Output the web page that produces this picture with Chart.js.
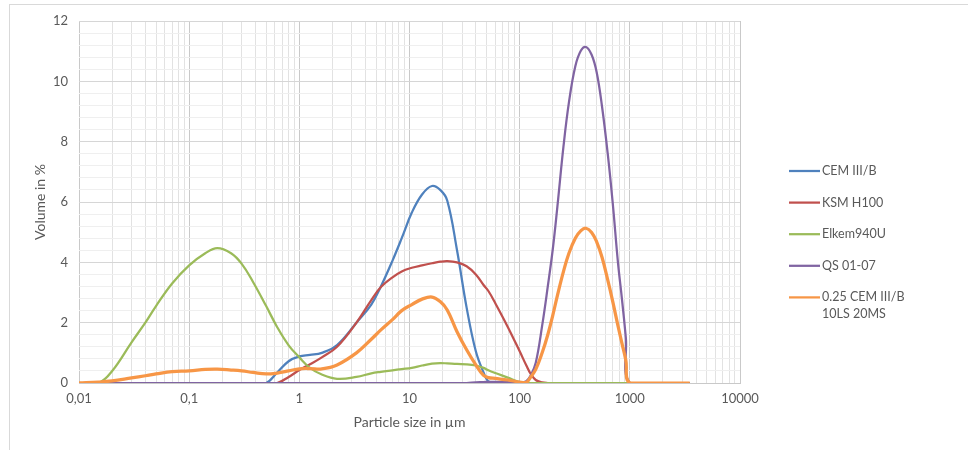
<!DOCTYPE html>
<html>
<head>
<meta charset="utf-8">
<script src="https://cdn.jsdelivr.net/npm/chart.js@4"></script>
<style>
  html, body { margin: 0; padding: 0; background: #fff; }
  #wrap { position: relative; width: 968px; height: 450px; overflow: hidden; }
  #frame { position: absolute; left: 9px; top: 4px; width: 1000px; height: 500px; border: 1px solid #d9d9d9; }
  canvas { position: absolute; left: 0; top: 0; }
</style>
</head>
<body>
<div id="wrap">
  <div id="frame"></div>
  <canvas id="chart" width="968" height="450"></canvas>
</div>
<script>
// particle sizes in µm (shared bins)
const sizes = [0.01, 0.015, 0.02, 0.03, 0.04, 0.05, 0.07, 0.1, 0.14, 0.18, 0.24, 0.3, 0.38, 0.5, 0.63, 0.8,
  1, 1.25, 1.6, 2.2, 3.3, 4.5, 5.5, 7, 8.5, 10.5, 13, 16, 19, 22, 27, 33, 40, 47, 52, 60, 78,
  100, 115, 126, 140, 160, 180, 200, 220, 250, 280, 320, 360, 400, 450, 500, 560, 630, 700, 780, 850, 920, 1000,
  2000, 3500];

const cem = [0, 0, 0, 0, 0, 0, 0, 0, 0, 0, 0, 0, 0, 0, 0.35, 0.72,
  0.88, 0.93, 1.0, 1.26, 2.0, 2.6, 3.2, 4.05, 4.8, 5.65, 6.25, 6.53, 6.4, 6.05, 4.4, 2.5, 1.05, 0.35, 0.05, 0, 0,
  0, 0, 0, 0, 0, 0, 0, 0, 0, 0, 0, 0, 0, 0, 0, 0, 0, 0, 0, 0, 0, 0,
  0, 0];

const ksm = [0, 0, 0, 0, 0, 0, 0, 0, 0, 0, 0, 0, 0, 0, 0, 0.2,
  0.43, 0.62, 0.85, 1.2, 2.0, 2.75, 3.18, 3.5, 3.7, 3.82, 3.9, 3.97, 4.02, 4.04, 4.0, 3.87, 3.6, 3.25, 3.05, 2.65, 1.86,
  1.05, 0.58, 0.3, 0.1, 0.02, 0, 0, 0, 0, 0, 0, 0, 0, 0, 0, 0, 0, 0, 0, 0, 0, 0,
  0, 0];

const elkem = [0, 0, 0.4, 1.35, 2.0, 2.55, 3.3, 3.9, 4.3, 4.47, 4.3, 3.95, 3.35, 2.55, 1.85, 1.25,
  0.85, 0.5, 0.28, 0.14, 0.2, 0.32, 0.37, 0.42, 0.46, 0.5, 0.58, 0.64, 0.66, 0.65, 0.63, 0.62, 0.58, 0.5, 0.42, 0.33, 0.18,
  0.03, 0, 0, 0, 0, 0, 0, 0, 0, 0, 0, 0, 0, 0, 0, 0, 0, 0, 0, 0, 0, 0,
  0, 0];

const qs = [0, 0, 0, 0, 0, 0, 0, 0, 0, 0, 0, 0, 0, 0, 0, 0,
  0, 0, 0, 0, 0, 0, 0, 0, 0, 0, 0, 0, 0, 0, 0, 0, 0.02, 0.03, 0.04, 0.04, 0.03,
  0, 0.06, 0.25, 0.67, 1.9, 3.2, 4.45, 5.85, 7.85, 9.3, 10.5, 11.02, 11.14, 10.88, 10.3, 9.15, 7.6, 5.95, 4.0, 2.75, 1.5, 0,
  0, 0];

const mix = [0, 0.03, 0.07, 0.17, 0.24, 0.3, 0.38, 0.4, 0.45, 0.46, 0.43, 0.4, 0.35, 0.3, 0.33, 0.4,
  0.47, 0.48, 0.47, 0.6, 1.0, 1.45, 1.76, 2.1, 2.4, 2.6, 2.78, 2.85, 2.7, 2.42, 1.7, 1.1, 0.6, 0.25, 0.18, 0.15, 0.1,
  0.03, 0.02, 0.2, 0.45, 1.0, 1.6, 2.25, 2.9, 3.7, 4.3, 4.8, 5.05, 5.13, 4.99, 4.68, 4.16, 3.42, 2.7, 1.9, 1.3, 0.75, 0,
  0, 0];

const seriesNames = ['CEM III/B', 'KSM H100', 'Elkem940U', 'QS 01-07', '0.25 CEM III/B\n10LS 20MS'];
const seriesValues = [cem, ksm, elkem, qs, mix];
const seriesColors = ['#4F81BD', '#C0504D', '#9BBB59', '#8064A2', '#F79646'];
const seriesWidths = [2.25, 2.25, 2.25, 2.25, 3.25];

const xDecades = [0.01, 0.1, 1, 10, 100, 1000, 10000];
const xTickLabels = ['0,01', '0,1', '1', '10', '100', '1000', '10000'];
const yMin = 0, yMax = 12, yMajor = 2, yMinor = 0.4;

const FONT = 'Lato';
const TEXT = '#595959';

function logTicks() {
  const t = [];
  xDecades.forEach((d, i) => {
    t.push({ value: d, major: true });
    if (i < xDecades.length - 1) {
      for (let m = 2; m <= 9; m++) t.push({ value: +(d * m).toPrecision(3), major: false });
    }
  });
  return t;
}

function linTicks() {
  const t = [];
  const n = Math.round((yMax - yMin) / yMinor);
  for (let i = 0; i <= n; i++) {
    const v = Math.round((yMin + i * yMinor) * 10) / 10;
    const q = v / yMajor;
    t.push({ value: v, major: Math.abs(q - Math.round(q)) < 1e-6 });
  }
  return t;
}

const sideLegend = {
  id: 'sideLegend',
  afterDraw(chart) {
    const ctx = chart.ctx;
    ctx.save();
    ctx.font = '12.5px ' + FONT;
    ctx.fillStyle = TEXT;
    ctx.textBaseline = 'middle';
    let y = 171;
    chart.data.datasets.forEach(ds => {
      ctx.strokeStyle = ds.borderColor;
      ctx.lineWidth = 2.25;
      ctx.beginPath();
      ctx.moveTo(789, y);
      ctx.lineTo(820, y);
      ctx.stroke();
      ds.label.split('\n').forEach((line, k) => ctx.fillText(line, 822, y + k * 16.5));
      y += 31.6;
    });
    ctx.restore();
  }
};

new Chart(document.getElementById('chart'), {
  type: 'line',
  data: {
    datasets: seriesNames.map((name, i) => ({
      label: name,
      data: sizes.map((x, k) => ({ x: x, y: seriesValues[i][k] })),
      borderColor: seriesColors[i],
      backgroundColor: seriesColors[i],
      borderWidth: seriesWidths[i],
      pointRadius: 0,
      tension: 0.4,
      fill: false,
      order: seriesNames.length - i
    }))
  },
  options: {
    responsive: false,
    animation: false,
    layout: { padding: { left: 10, top: 21, right: 228, bottom: 0 } },
    plugins: { legend: { display: false }, tooltip: { enabled: false } },
    scales: {
      x: {
        type: 'logarithmic',
        min: 0.01,
        max: 10000,
        afterBuildTicks: s => { s.ticks = logTicks(); },
        afterFit: s => { s.height = 67; },
        ticks: {
          autoSkip: false,
          maxRotation: 0,
          padding: 8,
          color: TEXT,
          font: { family: FONT, size: 13 },
          callback: (v) => {
            const i = xDecades.findIndex(d => Math.abs(d - v) < d * 1e-6);
            return i >= 0 ? xTickLabels[i] : '';
          }
        },
        grid: {
          drawTicks: false,
          color: c => (c.tick && c.tick.major ? '#c9c9c9' : '#e2e2e2'),
          lineWidth: 1
        },
        border: { color: '#c9c9c9' },
        title: {
          display: true,
          text: 'Particle size in µm',
          color: TEXT,
          font: { family: FONT, size: 14 },
          padding: { top: 0, bottom: 19 }
        }
      },
      y: {
        type: 'linear',
        min: yMin,
        max: yMax,
        afterBuildTicks: s => { s.ticks = linTicks(); },
        afterFit: s => { s.width = 69; },
        ticks: {
          autoSkip: false,
          padding: 11,
          color: TEXT,
          font: { family: FONT, size: 13 },
          callback: (v) => {
            const q = v / yMajor;
            return Math.abs(q - Math.round(q)) < 1e-6 ? String(Math.round(v)) : '';
          }
        },
        grid: {
          drawTicks: false,
          color: c => (c.tick && c.tick.major ? '#d6d6d6' : '#efefef'),
          lineWidth: 1
        },
        border: { display: false },
        title: {
          display: true,
          text: 'Volume in %',
          color: TEXT,
          font: { family: FONT, size: 14 },
          padding: { top: 22, bottom: 0 }
        }
      }
    }
  },
  plugins: [sideLegend]
});
</script>
</body>
</html>
